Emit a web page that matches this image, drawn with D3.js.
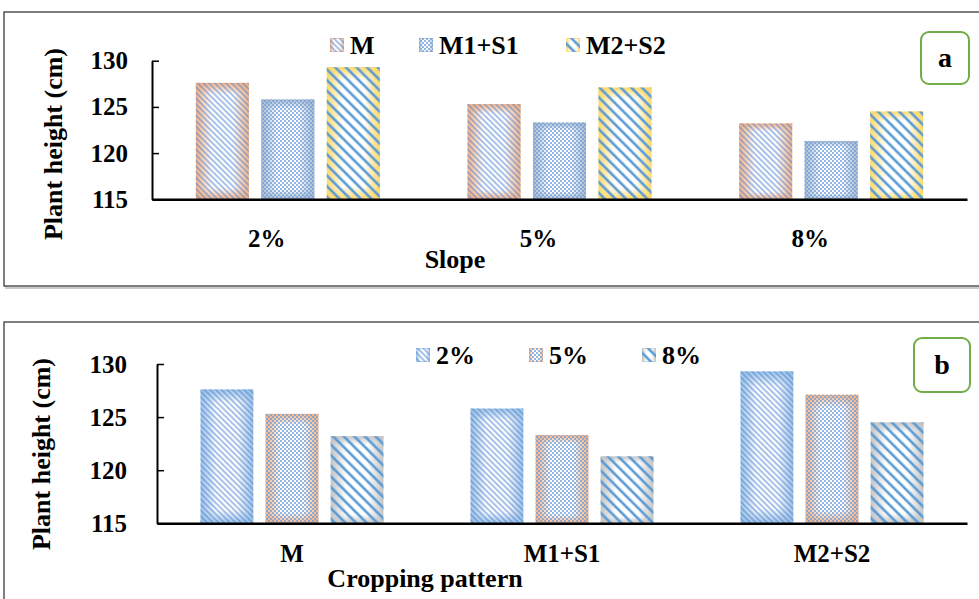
<!DOCTYPE html>
<html>
<head>
<meta charset="utf-8">
<script src="https://cdn.jsdelivr.net/npm/d3@7"></script>
<style>
  body { margin: 0; background: #fff; }
  svg { display: block; }
</style>
</head>
<body>
<div id="chart"></div>
<script>
// Plant height by slope and cropping pattern, two panels

// ---------- Data ----------
const slopes = ["2%", "5%", "8%"];
const croppingPatterns = ["M", "M1+S1", "M2+S2"];

// plant height (cm) for each cropping pattern, in slope order
const heightM = [127.6, 125.3, 123.2];
const heightM1S1 = [125.8, 123.3, 121.3];
const heightM2S2 = [129.3, 127.1, 124.5];

const yTicks = [115, 120, 125, 130];

// ---------- Setup ----------
const width = 979;
const height = 599;
const serif = '"Liberation Serif", "Times New Roman", serif';

const svg = d3.select("#chart")
    .append("svg")
    .attr("width", width)
    .attr("height", height);

const defs = svg.append("defs");

// style helper so every label gets the same bold serif
function styleText(sel, size) {
    return sel.style("font-family", serif)
        .style("font-weight", "bold")
        .style("font-size", size + "px")
        .attr("fill", "#000");
}

// edge-to-centre fade, a bit like Excel's path gradient
function edgeGradients(name, color) {
    const h = defs.append("linearGradient").attr("id", "h-" + name)
        .attr("x1", 0).attr("x2", 1).attr("y1", 0).attr("y2", 0);
    h.append("stop").attr("offset", 0).attr("stop-color", color).attr("stop-opacity", 1);
    h.append("stop").attr("offset", 0.3).attr("stop-color", color).attr("stop-opacity", 0);
    h.append("stop").attr("offset", 0.7).attr("stop-color", color).attr("stop-opacity", 0);
    h.append("stop").attr("offset", 1).attr("stop-color", color).attr("stop-opacity", 1);

    const v = defs.append("linearGradient").attr("id", "v-" + name)
        .attr("x1", 0).attr("x2", 0).attr("y1", 0).attr("y2", 1);
    v.append("stop").attr("offset", 0).attr("stop-color", color).attr("stop-opacity", 1);
    v.append("stop").attr("offset", 0.1).attr("stop-color", color).attr("stop-opacity", 0);
    v.append("stop").attr("offset", 0.9).attr("stop-color", color).attr("stop-opacity", 0);
    v.append("stop").attr("offset", 1).attr("stop-color", color).attr("stop-opacity", 1);
}

edgeGradients("orange", "#f4b183");
edgeGradients("bluegray", "#a9b9cf");
edgeGradients("gold", "#ffd966");
edgeGradients("lightblue", "#9dc3e6");
edgeGradients("gray", "#c4c4c4");

// fine diagonal stripes
const fine = defs.append("pattern").attr("id", "fine")
    .attr("patternUnits", "userSpaceOnUse")
    .attr("width", 4).attr("height", 4)
    .attr("patternTransform", "rotate(-45)");
fine.append("line").attr("x1", 1).attr("x2", 1).attr("y1", 0).attr("y2", 4)
    .attr("stroke", "#4a80cf").attr("stroke-width", 1.2).attr("stroke-opacity", 0.8);

// wide diagonal stripes
const wide = defs.append("pattern").attr("id", "wide")
    .attr("patternUnits", "userSpaceOnUse")
    .attr("width", 7.5).attr("height", 7.5)
    .attr("patternTransform", "rotate(-45)");
wide.append("line").attr("x1", 2).attr("x2", 2).attr("y1", 0).attr("y2", 7.5)
    .attr("stroke", "#5b9bd5").attr("stroke-width", 2.6);

// small checks
const check = defs.append("pattern").attr("id", "check")
    .attr("patternUnits", "userSpaceOnUse")
    .attr("width", 4).attr("height", 4);
check.append("rect").attr("width", 2).attr("height", 2).attr("fill", "#6f9fd8").attr("opacity", 0.75);
check.append("rect").attr("x", 2).attr("y", 2).attr("width", 2).attr("height", 2).attr("fill", "#6f9fd8").attr("opacity", 0.75);

// draws one patterned rectangle (bar or legend swatch)
function patternedRect(g, x, y, w, h, style) {
    const fills = ["#fff", `url(#h-${style.edge})`, `url(#v-${style.edge})`, `url(#${style.stripe})`];
    fills.forEach(f => {
        g.append("rect").attr("x", x).attr("y", y).attr("width", w).attr("height", h).attr("fill", f);
    });
}

// ---------- One panel ----------
function drawPanel(cfg) {
    const g = svg.append("g");

    // frame with a slight shadow
    g.append("rect").attr("x", cfg.frame.x + 2).attr("y", cfg.frame.y + 2)
        .attr("width", cfg.frame.w).attr("height", cfg.frame.h)
        .attr("fill", "none").attr("stroke", "#c8c8c8").attr("stroke-width", 2);
    g.append("rect").attr("x", cfg.frame.x).attr("y", cfg.frame.y)
        .attr("width", cfg.frame.w).attr("height", cfg.frame.h)
        .attr("fill", "#fff").attr("stroke", "#3a3a3a").attr("stroke-width", 1.3);

    const x0 = d3.scaleBand()
        .domain(cfg.groups)
        .range([cfg.left, cfg.right]);

    const x1 = d3.scaleBand()
        .domain(cfg.series.map(s => s.name))
        .range([0, x0.bandwidth()])
        .paddingInner(0.19)
        .paddingOuter(0.67);

    const y = d3.scaleLinear()
        .domain([115, 130])
        .range([cfg.bottom, cfg.top]);

    // bars
    const barGroup = g.append("g");
    cfg.series.forEach(s => {
        s.values.forEach((v, i) => {
            const bx = x0(cfg.groups[i]) + x1(s.name);
            patternedRect(barGroup, bx, y(v), x1.bandwidth(), y(115) - y(v), s.style);
        });
    });

    // y axis, ticks pointing inward
    const yAxis = d3.axisLeft(y)
        .tickValues(yTicks)
        .tickSizeInner(-7)
        .tickSizeOuter(0)
        .tickPadding(cfg.yPad);

    const yAxisGroup = g.append("g")
        .attr("transform", `translate(${cfg.left}, 0)`)
        .call(yAxis);
    yAxisGroup.select(".domain").attr("stroke", "#000").attr("stroke-width", 2);
    yAxisGroup.selectAll(".tick line").attr("stroke", "#000").attr("stroke-width", 1.5);
    styleText(yAxisGroup.selectAll("text"), 25);

    // x axis (baseline + category labels)
    const xAxis = d3.axisBottom(x0)
        .tickSize(0)
        .tickPadding(cfg.xPad);

    const xAxisGroup = g.append("g")
        .attr("transform", `translate(0, ${cfg.bottom})`)
        .call(xAxis);
    xAxisGroup.select(".domain").attr("stroke", "#000").attr("stroke-width", 2.5);
    styleText(xAxisGroup.selectAll("text"), 25)
        .attr("dx", cfg.xLabelShift);

    // axis titles
    styleText(g.append("text"), 26)
        .attr("x", cfg.xTitle.x).attr("y", cfg.xTitle.y)
        .attr("text-anchor", "middle")
        .text(cfg.xTitle.text);

    styleText(g.append("text"), 26)
        .attr("transform", `translate(${cfg.yTitle.x}, ${cfg.yTitle.y}) rotate(-90)`)
        .attr("text-anchor", "middle")
        .text("Plant height (cm)");

    // legend
    cfg.series.forEach((s, i) => {
        const lx = cfg.legend.xs[i];
        patternedRect(g, lx, cfg.legend.y - 7, 14, 14, s.style);
        styleText(g.append("text"), 26)
            .attr("x", lx + 20).attr("y", cfg.legend.y + 9)
            .text(s.name);
    });

    // panel letter box
    g.append("rect")
        .attr("x", cfg.tag.x).attr("y", cfg.tag.y)
        .attr("width", cfg.tag.w).attr("height", cfg.tag.h)
        .attr("rx", 8)
        .attr("fill", "#fff").attr("stroke", "#70ad47").attr("stroke-width", 2);
    styleText(g.append("text"), 28)
        .attr("x", cfg.tag.x + cfg.tag.w / 2).attr("y", cfg.tag.y + cfg.tag.h / 2 + 9)
        .attr("text-anchor", "middle")
        .text(cfg.tag.text);
}

// ---------- Panel a: grouped by slope ----------
drawPanel({
    frame: { x: 4, y: 12, w: 1000, h: 274 },
    groups: slopes,
    series: [
        { name: croppingPatterns[0], values: heightM, style: { edge: "orange", stripe: "fine" } },
        { name: croppingPatterns[1], values: heightM1S1, style: { edge: "bluegray", stripe: "check" } },
        { name: croppingPatterns[2], values: heightM2S2, style: { edge: "gold", stripe: "wide" } }
    ],
    left: 152, right: 967, top: 60.7, bottom: 199.3,
    yPad: 24, xPad: 30, xLabelShift: -21,
    xTitle: { x: 455, y: 268, text: "Slope" },
    yTitle: { x: 62, y: 144 },
    legend: { y: 45, xs: [330, 419, 566] },
    tag: { x: 921, y: 32, w: 48, h: 52, text: "a" }
});

// ---------- Panel b: grouped by cropping pattern ----------
// reorganise the same values so each series is one slope
const slopeSeries = slopes.map((s, i) => [heightM[i], heightM1S1[i], heightM2S2[i]]);

drawPanel({
    frame: { x: 4, y: 322, w: 1000, h: 300 },
    groups: croppingPatterns,
    series: [
        { name: slopes[0], values: slopeSeries[0], style: { edge: "lightblue", stripe: "fine" } },
        { name: slopes[1], values: slopeSeries[1], style: { edge: "orange", stripe: "check" } },
        { name: slopes[2], values: slopeSeries[2], style: { edge: "gray", stripe: "wide" } }
    ],
    left: 157, right: 967, top: 364, bottom: 523.3,
    yPad: 30, xPad: 21, xLabelShift: 0,
    xTitle: { x: 425, y: 587, text: "Cropping pattern" },
    yTitle: { x: 50, y: 454 },
    legend: { y: 355, xs: [416, 529, 642] },
    tag: { x: 914, y: 338, w: 56, h: 54, text: "b" }
});
</script>
</body>
</html>
